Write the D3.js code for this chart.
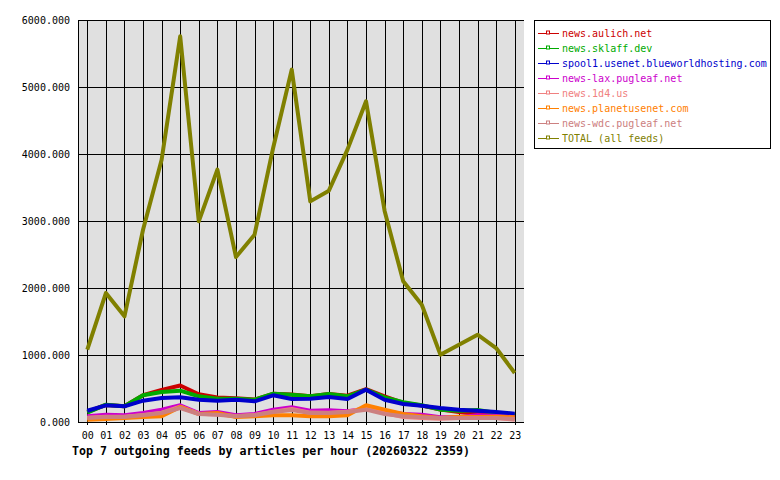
<!DOCTYPE html>
<html>
<head>
<meta charset="utf-8">
<script src="https://cdn.jsdelivr.net/npm/d3@7"></script>
<style>
  body { margin: 0; background: #fff; }
  text { font-family: "DejaVu Sans Mono", monospace; }
</style>
</head>
<body>
<div class="graph"></div>
<script>
const hours = ["00","01","02","03","04","05","06","07","08","09","10","11","12","13","14","15","16","17","18","19","20","21","22","23"];
const yTicks = [0, 1000, 2000, 3000, 4000, 5000, 6000];
const feedNames = ["news.aulich.net", "news.sklaff.dev", "spool1.usenet.blueworldhosting.com", "news-lax.pugleaf.net", "news.1d4.us", "news.planetusenet.com", "news-wdc.pugleaf.net", "TOTAL (all feeds)"];
const feedColors = ["#cc0000", "#00aa00", "#0000cc", "#cc00cc", "#f08080", "#ff8000", "#cc8080", "#808000"];

const aulich  = [150, 255, 235, 400, 480, 545, 415, 365, 355, 335, 420, 410, 385, 418, 392, 490, 383, 285, 245, 185, 150, 120, 118, 100];
const sklaff  = [140, 258, 234, 398, 448, 468, 383, 348, 348, 333, 423, 408, 383, 418, 383, 483, 368, 294, 249, 184, 169, 179, 134, 109];
const spool1  = [168, 249, 234, 318, 358, 368, 333, 318, 333, 308, 398, 343, 348, 373, 343, 483, 333, 269, 244, 209, 184, 169, 149, 124];
const lax     = [85, 109, 100, 134, 184, 249, 134, 149, 100, 119, 184, 219, 169, 174, 159, 199, 159, 119, 109, 70, 70, 100, 90, 70];
const d4      = [62, 78, 78, 104, 140, 229, 124, 112, 90, 104, 155, 194, 140, 138, 154, 209, 134, 75, 60, 50, 60, 70, 60, 35];
const planet  = [35, 45, 60, 75, 85, 224, 119, 134, 75, 85, 100, 100, 85, 85, 100, 249, 184, 119, 85, 60, 80, 75, 80, 70];
const wdc     = [60, 75, 75, 100, 134, 209, 119, 109, 85, 100, 149, 179, 134, 134, 149, 184, 119, 85, 70, 60, 60, 60, 60, 45];
const total   = [1080, 1925, 1577, 2870, 3915, 5756, 2995, 3766, 2463, 2796, 4090, 5259, 3293, 3453, 4065, 4786, 3150, 2100, 1751, 1005, 1154, 1303, 1104, 731];

const series = [aulich, sklaff, spool1, lax, d4, planet, wdc, total];
const title = "Top 7 outgoing feeds by articles per hour (20260322 2359)";

const width = 780, height = 480;
const plot = { left: 78, right: 524, top: 20, bottom: 422 };

const svg = d3.select(".graph")
    .append("svg")
    .attr("width", width)
    .attr("height", height);

const xScale = d3.scalePoint()
    .domain(hours)
    .range([plot.left, plot.right])
    .padding(0.5);

const yScale = d3.scaleLinear()
    .domain([0, 6000])
    .range([plot.bottom, plot.top]);

// plot background
svg.append("rect")
    .attr("x", plot.left)
    .attr("y", plot.top)
    .attr("width", plot.right - plot.left)
    .attr("height", plot.bottom - plot.top)
    .attr("fill", "#e0e0e0");

// grid
svg.append("g")
    .selectAll("line")
    .data(hours)
    .enter()
    .append("line")
    .attr("x1", d => Math.round(xScale(d)) + 0.5)
    .attr("x2", d => Math.round(xScale(d)) + 0.5)
    .attr("y1", plot.top)
    .attr("y2", plot.bottom + 3)
    .attr("stroke", "#000");

svg.append("g")
    .selectAll("line")
    .data(yTicks)
    .enter()
    .append("line")
    .attr("x1", plot.left)
    .attr("x2", plot.right)
    .attr("y1", d => Math.round(yScale(d)) + 0.5)
    .attr("y2", d => Math.round(yScale(d)) + 0.5)
    .attr("stroke", "#000");

// left axis line
svg.append("line")
    .attr("x1", plot.left + 0.5)
    .attr("x2", plot.left + 0.5)
    .attr("y1", plot.top)
    .attr("y2", plot.bottom + 1)
    .attr("stroke", "#000");

// axis labels
svg.append("g")
    .selectAll("text")
    .data(yTicks)
    .enter()
    .append("text")
    .attr("x", 70)
    .attr("y", d => yScale(d) + 4)
    .attr("text-anchor", "end")
    .attr("font-size", "10px")
    .text(d => d3.format(".3f")(d));

svg.append("g")
    .selectAll("text")
    .data(hours)
    .enter()
    .append("text")
    .attr("x", d => xScale(d) + 0.5)
    .attr("y", 439)
    .attr("text-anchor", "middle")
    .attr("font-size", "10px")
    .text(d => d);

// lines
const line = d3.line()
    .x((d, i) => xScale(hours[i]))
    .y(d => yScale(d));

svg.append("g")
    .selectAll("path")
    .data(series)
    .enter()
    .append("path")
    .attr("d", d => line(d))
    .attr("fill", "none")
    .attr("stroke", (d, i) => feedColors[i])
    .attr("stroke-width", 4)
    .attr("stroke-linejoin", "round");

// legend
const legend = svg.append("g");
legend.append("rect")
    .attr("x", 534.5)
    .attr("y", 20.5)
    .attr("width", 236)
    .attr("height", 128)
    .attr("fill", "#fff")
    .attr("stroke", "#000");

const rows = legend.selectAll("g")
    .data(feedNames)
    .enter()
    .append("g")
    .attr("transform", (d, i) => `translate(0, ${33.5 + i * 15})`);

rows.append("line")
    .attr("x1", 538)
    .attr("x2", 559)
    .attr("stroke", (d, i) => feedColors[i]);

rows.append("rect")
    .attr("x", 546.5)
    .attr("y", -2.5)
    .attr("width", 3)
    .attr("height", 3)
    .attr("fill", "#fff")
    .attr("stroke", (d, i) => feedColors[i]);

rows.append("text")
    .attr("x", 562)
    .attr("y", 3.5)
    .attr("font-size", "10px")
    .attr("fill", (d, i) => feedColors[i])
    .text(d => d);

// title
svg.append("text")
    .attr("x", 72)
    .attr("y", 455)
    .attr("font-size", "11.6px")
    .attr("font-weight", "bold")
    .text(title);
</script>
</body>
</html>
